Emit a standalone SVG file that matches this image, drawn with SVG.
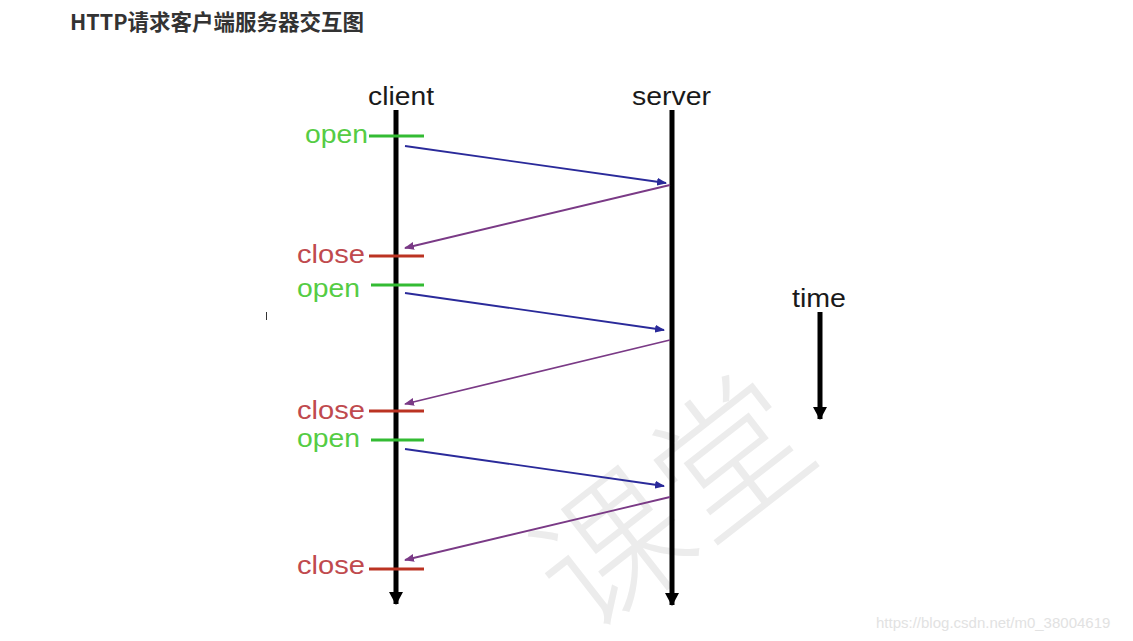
<svg xmlns="http://www.w3.org/2000/svg" width="1133" height="641" viewBox="0 0 1133 641">
<defs>
<style>
.title{font-family:"Noto Sans CJK SC","Liberation Sans",sans-serif;font-weight:bold;font-size:21.5px;fill:#333}
.lbl{font-family:"Liberation Sans",Arial,sans-serif;font-size:26px;fill:#1a1a1a}
.open{font-family:"Liberation Sans",Arial,sans-serif;font-size:26px;fill:#55cc44}
.close{font-family:"Liberation Sans",Arial,sans-serif;font-size:26px;fill:#c04a4e}
.life{stroke:#000;stroke-width:5;fill:none}
.gt{stroke:#33bb33;stroke-width:3}
.rt{stroke:#bb3322;stroke-width:3}
.req{stroke:#2a2a9a;stroke-width:1.8;fill:none}
.res{stroke:#7a3a86;stroke-width:1.8;fill:none}
.wm{font-family:"Noto Sans CJK SC",serif;font-weight:300;font-size:150px;fill:#ececec}
.url{font-family:"Liberation Sans",Arial,sans-serif;font-size:15px;fill:#e2e2e2}
</style>
<marker id="ab" markerWidth="10" markerHeight="8" refX="9" refY="4" orient="auto" markerUnits="userSpaceOnUse"><path d="M0,0 L10,4 L0,8 Z" fill="#2a2a9a"/></marker>
<marker id="ap" markerWidth="10" markerHeight="8" refX="9" refY="4" orient="auto" markerUnits="userSpaceOnUse"><path d="M0,0 L10,4 L0,8 Z" fill="#7a3a86"/></marker>
<marker id="ak" markerWidth="14" markerHeight="14" refX="12" refY="7" orient="auto" markerUnits="userSpaceOnUse"><path d="M0,0 L13,7 L0,14 Z" fill="#000"/></marker>
</defs>
<rect width="1133" height="641" fill="#fff"/>
<g id="watermark">
<text class="wm" transform="translate(665,495) rotate(-38)" text-anchor="middle" dominant-baseline="central">课堂</text>
</g>
<text class="title" x="70" y="30">HTTP请求客户端服务器交互图</text>
<g id="client">
<text class="lbl" x="368" y="105" textLength="66" lengthAdjust="spacingAndGlyphs">client</text>
<line class="life" x1="396" y1="110" x2="396" y2="604" marker-end="url(#ak)"/>
</g>
<g id="server">
<text class="lbl" x="632" y="105" textLength="79" lengthAdjust="spacingAndGlyphs">server</text>
<line class="life" x1="672" y1="110" x2="672" y2="605" marker-end="url(#ak)"/>
</g>
<g id="time">
<text class="lbl" x="792" y="307" textLength="54" lengthAdjust="spacingAndGlyphs">time</text>
<line class="life" x1="820" y1="312" x2="820" y2="419" marker-end="url(#ak)"/>
</g>
<g id="marks">
<text class="open" x="305" y="143" textLength="63" lengthAdjust="spacingAndGlyphs">open</text>
<line class="gt" x1="369" y1="136" x2="424" y2="136"/>
<text class="close" x="297" y="263" textLength="68" lengthAdjust="spacingAndGlyphs">close</text>
<line class="rt" x1="369" y1="256" x2="424" y2="256"/>
<text class="open" x="297" y="297" textLength="63" lengthAdjust="spacingAndGlyphs">open</text>
<line class="gt" x1="371" y1="285" x2="424" y2="285"/>
<text class="close" x="297" y="419" textLength="68" lengthAdjust="spacingAndGlyphs">close</text>
<line class="rt" x1="369" y1="411" x2="424" y2="411"/>
<text class="open" x="297" y="447" textLength="63" lengthAdjust="spacingAndGlyphs">open</text>
<line class="gt" x1="371" y1="440" x2="424" y2="440"/>
<text class="close" x="297" y="574" textLength="68" lengthAdjust="spacingAndGlyphs">close</text>
<line class="rt" x1="369" y1="569" x2="424" y2="569"/>
</g>
<g id="connectors">
<line class="req" x1="405" y1="146" x2="666" y2="183" marker-end="url(#ab)"/>
<line class="res" x1="670" y1="185" x2="405" y2="248" marker-end="url(#ap)"/>
<line class="req" x1="405" y1="293" x2="664" y2="330" marker-end="url(#ab)"/>
<line class="res" x1="670" y1="340" x2="405" y2="404" marker-end="url(#ap)"/>
<line class="req" x1="405" y1="449" x2="664" y2="486" marker-end="url(#ab)"/>
<line class="res" x1="670" y1="497" x2="405" y2="560" marker-end="url(#ap)"/>
</g>
<line x1="266.5" y1="312" x2="266.5" y2="320" stroke="#333" stroke-width="1"/>
<text class="url" x="876" y="628">https://blog.csdn.net/m0_38004619</text>
</svg>
